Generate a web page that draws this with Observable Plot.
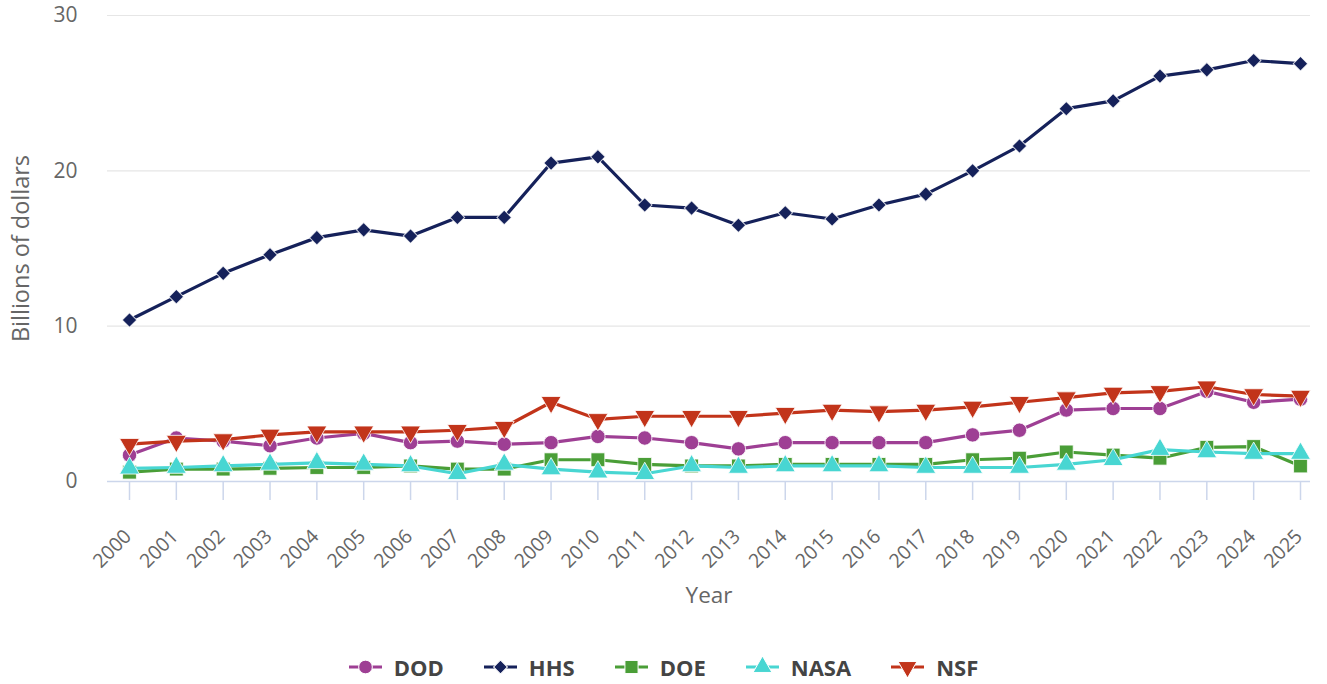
<!DOCTYPE html>
<html><head><meta charset="utf-8">
<script src="https://cdn.jsdelivr.net/npm/d3@7"></script>
<script src="https://cdn.jsdelivr.net/npm/@observablehq/plot@0.6"></script>
<style>
body{margin:0;background:#fff;font-family:"Open Sans",sans-serif;}
#legend{display:flex;justify-content:center;align-items:center;gap:40px;margin-top:22px;}
.item{display:flex;align-items:center;gap:12px;font-weight:bold;font-size:22px;line-height:30px;color:#444;}
</style></head><body>
<div id="chart"></div>
<div id="legend"></div>
<script>
const years = d3.range(2000, 2026);
const seriesNames = ["DOD","HHS","DOE","NASA","NSF"];
const colors = ["#9e3f94","#15215a","#4a9e37","#48d6d2","#c2341a"];
const yTicks = [0,10,20,30];
const dod  = [1.7,2.8,2.6,2.3,2.8,3.1,2.5,2.6,2.4,2.5,2.9,2.8,2.5,2.1,2.5,2.5,2.5,2.5,3.0,3.3,4.6,4.7,4.7,5.8,5.1,5.3];
const hhs  = [10.4,11.9,13.4,14.6,15.7,16.2,15.8,17.0,17.0,20.5,20.9,17.8,17.6,16.5,17.3,16.9,17.8,18.5,20.0,21.6,24.0,24.5,26.1,26.5,27.1,26.9];
const doe  = [0.6,0.8,0.8,0.85,0.9,0.9,1.0,0.8,0.8,1.4,1.4,1.1,1.0,1.0,1.1,1.1,1.1,1.1,1.4,1.5,1.9,1.7,1.5,2.2,2.25,1.0];
const nasa = [0.85,0.9,1.0,1.1,1.2,1.1,1.0,0.5,1.1,0.8,0.6,0.5,1.0,0.9,1.0,1.0,1.0,0.9,0.9,0.9,1.1,1.4,2.05,1.9,1.8,1.8];
const nsf  = [2.4,2.6,2.7,3.0,3.2,3.2,3.2,3.3,3.5,5.1,4.0,4.2,4.2,4.2,4.4,4.6,4.5,4.6,4.8,5.1,5.4,5.7,5.8,6.1,5.6,5.5];
const values = [dod,hhs,doe,nasa,nsf];
const symbols = [
  {symbol:"circle", r:7.2, rotate:0},
  {symbol:"square", r:5.8, rotate:45},
  {symbol:"square", r:7.8, rotate:0},
  {symbol:"triangle", r:7.4, rotate:0},
  {symbol:"triangle", r:7.4, rotate:180}
];
const rows = seriesNames.map((s,i)=>years.map((y,j)=>({series:s, year:y, value:values[i][j]})));

const marks = [
  Plot.gridY(yTicks, {stroke:"#e6e6e6", strokeOpacity:1, strokeWidth:1.2}),
  Plot.axisY(yTicks, {tickSize:0, tickPadding:30, fontSize:21, fill:"#666", label:null, fontFamily:"Open Sans"}),
  Plot.ruleY([0], {stroke:"#ccd6eb", strokeWidth:1.5}),
  Plot.axisX(years, {tickSize:19, stroke:"#ccd6eb", strokeOpacity:1, strokeWidth:1.5, tickFormat:()=>"", label:null}),
  Plot.text(years, {x:d=>d, text:d=>String(d), frameAnchor:"bottom", rotate:-45, textAnchor:"end", lineAnchor:"bottom",
    dx:3, dy:56, fontSize:19.5, fill:"#666", fontFamily:"Open Sans"}),
  Plot.text(["Year"], {frameAnchor:"bottom", dy:121, fontSize:22.5, fill:"#666", fontFamily:"Open Sans"}),
  Plot.text(["Billions of dollars"], {frameAnchor:"left", textAnchor:"middle", dx:-86, rotate:-90, fontSize:23.5, fill:"#666", fontFamily:"Open Sans"})
];
rows.forEach((data,i)=>{
  marks.push(Plot.line(data, {x:"year", y:"value", stroke:colors[i], strokeWidth:3.2}));
  marks.push(Plot.dot(data, {x:"year", y:"value", fill:colors[i], stroke:"white", strokeWidth:1, strokeOpacity:0.8,
    symbol:symbols[i].symbol, r:symbols[i].r, rotate:symbols[i].rotate}));
});

const chart = Plot.plot({
  width:1327, height:630,
  marginTop:15, marginLeft:107, marginRight:17, marginBottom:149,
  style:{fontFamily:"Open Sans", background:"white"},
  x:{type:"linear", domain:[2000,2025], insetLeft:22, insetRight:10},
  y:{domain:[0,30]},
  marks
});
document.getElementById("chart").appendChild(chart);

// legend
const leg = document.getElementById("legend");
seriesNames.forEach((s,i)=>{
  const item = document.createElement("div");
  item.className = "item";
  const svg = d3.create("svg").attr("width",33).attr("height",20);
  svg.append("line").attr("x1",0).attr("x2",33).attr("y1",10).attr("y2",10).attr("stroke",colors[i]).attr("stroke-width",3.2);
  const sym = {circle:d3.symbolCircle, square:d3.symbolSquare, triangle:d3.symbolTriangle}[symbols[i].symbol];
  const rr = symbols[i].r*0.95;
  svg.append("path").attr("d", d3.symbol(sym, Math.PI*rr*rr)())
     .attr("transform",`translate(16.5,10) rotate(${symbols[i].rotate})`)
     .attr("fill",colors[i]).attr("stroke","white").attr("stroke-width",1);
  item.appendChild(svg.node());
  const t = document.createElement("span");
  t.textContent = s;
  item.appendChild(t);
  leg.appendChild(item);
});
</script>
</body></html>
